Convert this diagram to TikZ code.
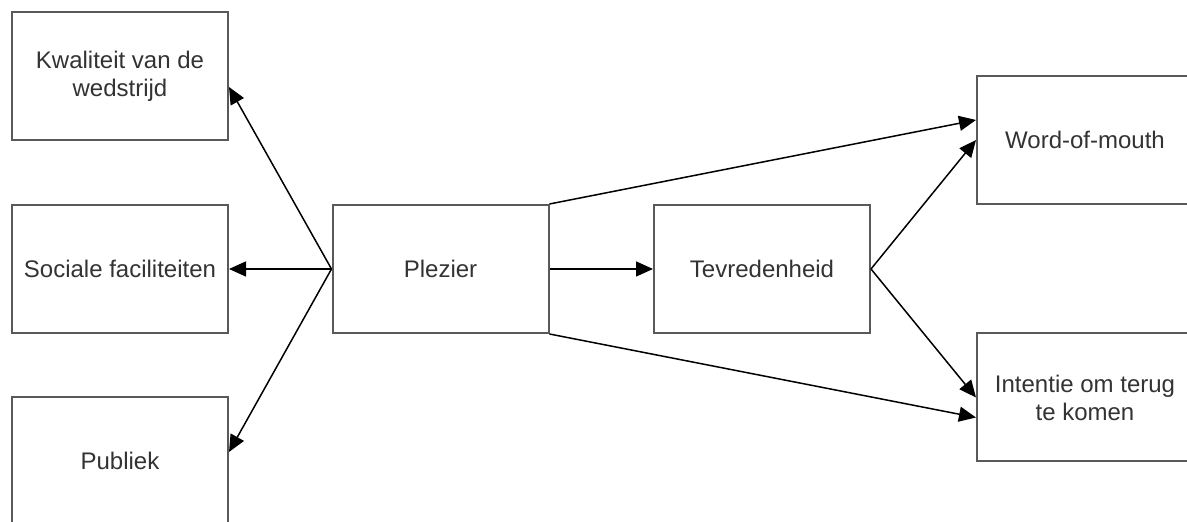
\documentclass[tikz,border=0pt]{standalone}
\usepackage{fontspec}
\setmainfont{Liberation Sans}
\usetikzlibrary{arrows.meta}
\begin{document}
\begin{tikzpicture}[x=1pt,y=1pt,
  box/.style={draw=black!65, line width=2pt, fill=white, minimum width=216pt,
    minimum height=128pt, inner sep=0pt, align=center, text=black!80,
    font=\fontsize{24}{28}\selectfont},
  link/.style={black, line width=1.5pt, -{Triangle[length=17pt,width=15pt]}}]
\clip (0,0) rectangle (1187,522);
\fill[white] (0,0) rectangle (1187,522);

% factors on the left
\node[box] (kw)  at (120,446) {Kwaliteit van de\\wedstrijd};
\node[box] (soc) at (120,253) {Sociale faciliteiten};
\node[box] (pub) at (120,61)  {Publiek};

% central chain
\node[box] (plez) at (440.5,253) {Plezier};
\node[box] (tev)  at (762,253)   {Tevredenheid};

% outcomes on the right
\node[box] (wom) at (1085,382)   {Word-of-mouth};
\node[box] (int) at (1085,124.5) {Intentie om terug\\te komen};

% connectors
\draw[link] (plez.west) -- ([yshift=-11pt]kw.east);
\draw[link] (plez.west) -- (soc.east);
\draw[link] (plez.west) -- ([yshift=9pt]pub.east);
\draw[link] (plez.east) -- (tev.west);
\draw[link] (plez.north east) -- ([yshift=20pt]wom.west);
\draw[link] (tev.east) -- (wom.west);
\draw[link] (tev.east) -- (int.west);
\draw[link] (plez.south east) -- ([yshift=-20pt]int.west);
\end{tikzpicture}
\end{document}
